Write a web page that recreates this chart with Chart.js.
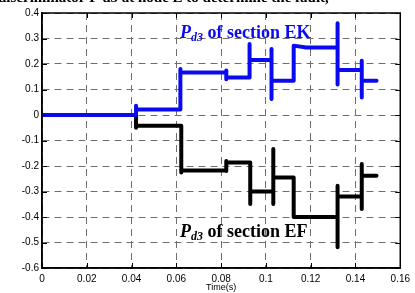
<!DOCTYPE html>
<html>
<head>
<meta charset="utf-8">
<script src="https://cdn.jsdelivr.net/npm/chart.js@4.4.1/dist/chart.umd.min.js"></script>
<style>
  html, body { margin: 0; padding: 0; background: #fff; }
  #wrap { position: relative; width: 415px; height: 293px; }
</style>
</head>
<body>
<div id="wrap"><canvas id="c" width="415" height="293"></canvas></div>
<script>
// ---- data ----
const xTicks = [0, 0.02, 0.04, 0.06, 0.08, 0.1, 0.12, 0.14, 0.16];
const yTicks = [-0.6, -0.5, -0.4, -0.3, -0.2, -0.1, 0, 0.1, 0.2, 0.3, 0.4];

// P_d3 of section EK (blue)
const ekTime  = [0, 0.042, 0.042, 0.042, 0.0618, 0.0618, 0.0618, 0.0823, 0.0823, 0.0823, 0.0823, 0.0927, 0.0927, 0.0927, 0.0927, 0.1025, 0.1025, 0.1025, 0.1025, 0.1124, 0.1124, 0.118, 0.1185, 0.132, 0.132, 0.132, 0.132, 0.1428, 0.1428, 0.1428, 0.1428, 0.1494];
const ekValue = [0, 0, 0.036, 0.022, 0.022, 0.18, 0.167, 0.167, 0.175, 0.14, 0.147, 0.147, 0.278, 0.155, 0.216, 0.216, 0.259, 0.063, 0.134, 0.134, 0.272, 0.265, 0.265, 0.265, 0.36, 0.12, 0.176, 0.176, 0.213, 0.069, 0.134, 0.134];

// P_d3 of section EF (black)
const efTime  = [0, 0.042, 0.042, 0.042, 0.0622, 0.0622, 0.0622, 0.0823, 0.0823, 0.0823, 0.0823, 0.093, 0.093, 0.093, 0.1033, 0.1033, 0.1033, 0.1033, 0.1124, 0.1124, 0.1185, 0.132, 0.132, 0.132, 0.132, 0.1428, 0.1428, 0.1428, 0.1428, 0.1494];
const efValue = [0, 0, -0.05, -0.042, -0.042, -0.225, -0.218, -0.218, -0.18, -0.22, -0.186, -0.186, -0.349, -0.30, -0.30, -0.133, -0.349, -0.245, -0.245, -0.40, -0.40, -0.40, -0.277, -0.519, -0.32, -0.32, -0.192, -0.369, -0.238, -0.238];

const xTitle = 'Time(s)';
const ekLabel = ['P', 'd3', ' of section EK'];
const efLabel = ['P', 'd3', ' of section EF'];
const topText = 'discriminator P d3 at node E to determine the fault,';

function pts(t, v) { return t.map((x, i) => ({ x: x, y: v[i] })); }

const fmt = v => {
  const r = Math.round(v * 100) / 100;
  return r === 0 ? '0' : String(r);
};

const decor = {
  id: 'decor',
  afterDraw(chart) {
    const ctx = chart.ctx;
    const a = chart.chartArea;
    const xs = chart.scales.x, ys = chart.scales.y;
    ctx.save();
    // inward tick marks
    ctx.strokeStyle = '#000';
    ctx.lineWidth = 1;
    ctx.beginPath();
    xTicks.forEach(t => {
      const px = Math.round(xs.getPixelForValue(t)) + 0.5;
      ctx.moveTo(px, a.top); ctx.lineTo(px, a.top + 5);
      ctx.moveTo(px, a.bottom); ctx.lineTo(px, a.bottom - 5);
    });
    yTicks.forEach(t => {
      const py = Math.round(ys.getPixelForValue(t)) + 0.5;
      ctx.moveTo(a.left, py); ctx.lineTo(a.left + 5, py);
      ctx.moveTo(a.right, py); ctx.lineTo(a.right - 5, py);
    });
    ctx.stroke();
    // box
    ctx.lineWidth = 1.5;
    ctx.strokeRect(a.left, a.top, a.right - a.left, a.bottom - a.top);

    // annotations
    function label(parts, color, x, y) {
      ctx.fillStyle = color;
      ctx.textBaseline = 'alphabetic';
      ctx.textAlign = 'left';
      ctx.font = 'italic bold 18px "Liberation Serif", "Times New Roman", serif';
      ctx.fillText(parts[0], x, y);
      let cx = x + ctx.measureText(parts[0]).width;
      ctx.font = 'italic bold 12px "Liberation Serif", "Times New Roman", serif';
      ctx.fillText(parts[1], cx, y + 3);
      cx += ctx.measureText(parts[1]).width;
      ctx.font = 'bold 18px "Liberation Serif", "Times New Roman", serif';
      ctx.fillText(parts[2], cx, y);
    }
    label(ekLabel, '#0a0af0', 180, 38);
    label(efLabel, '#000', 180, 237);

    // clipped line of text above the figure
    ctx.fillStyle = '#000';
    ctx.textBaseline = 'alphabetic';
    ctx.font = 'bold 15px "Liberation Serif", "Times New Roman", serif';
    ctx.textAlign = 'left';
    ctx.fillText(topText, -2, 2);
    ctx.restore();
  }
};

new Chart(document.getElementById('c'), {
  type: 'line',
  data: {
    datasets: [
      { label: 'EK', data: pts(ekTime, ekValue), borderColor: '#0a0af0', borderWidth: 4,
        pointRadius: 0, borderCapStyle: 'round', borderJoinStyle: 'round', tension: 0, fill: false },
      { label: 'EF', data: pts(efTime, efValue), borderColor: '#000', borderWidth: 4,
        pointRadius: 0, borderCapStyle: 'round', borderJoinStyle: 'round', tension: 0, fill: false }
    ]
  },
  options: {
    responsive: false,
    animation: false,
    devicePixelRatio: 1,
    layout: { padding: { top: 13, right: 11, left: 0, bottom: 0 } },
    plugins: { legend: { display: false }, tooltip: { enabled: false } },
    scales: {
      x: {
        type: 'linear', min: 0, max: 0.16,
        afterBuildTicks: s => { s.ticks = xTicks.map(v => ({ value: v })); },
        afterFit: s => { s.height = 25; },
        grid: { color: '#6f6f6f', lineWidth: 1, drawTicks: false },
        border: { display: true, color: '#000', width: 1.5, dash: [7, 5] },
        ticks: { callback: fmt, color: '#000', padding: 5, maxRotation: 0,
                 font: { family: '"Liberation Sans", Arial, sans-serif', size: 10 } },
        title: { display: true, text: xTitle, color: '#000', padding: { top: 0, bottom: 0 },
                 font: { family: '"Liberation Sans", Arial, sans-serif', size: 9 } }
      },
      y: {
        type: 'linear', min: -0.6, max: 0.4,
        afterBuildTicks: s => { s.ticks = yTicks.map(v => ({ value: v })); },
        afterFit: s => { s.width = 42; },
        grid: { color: '#6f6f6f', lineWidth: 1, drawTicks: false },
        border: { display: true, color: '#000', width: 1.5, dash: [7, 5] },
        ticks: { callback: fmt, color: '#000', padding: 3,
                 font: { family: '"Liberation Sans", Arial, sans-serif', size: 10 } }
      }
    }
  },
  plugins: [decor]
});
</script>
</body>
</html>
